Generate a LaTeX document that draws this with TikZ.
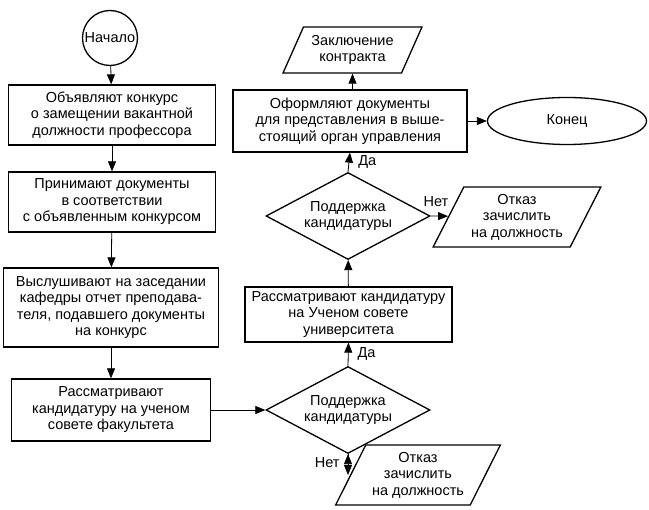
\documentclass[tikz,border=0pt]{standalone}
\usepackage{fontspec}
\setmainfont{Liberation Sans}
\usetikzlibrary{shapes.geometric,arrows.meta}
\begin{document}
\begin{tikzpicture}[x=1pt, y=-1pt,
    every node/.style={font=\fontsize{14.5}{16.5}\selectfont, align=center, inner sep=0pt},
    blk/.style={draw, line width=1.3pt, rectangle},
    ask/.style={draw, line width=1.3pt, diamond, aspect=1.9, minimum width=164, minimum height=87},
    io/.style={draw, line width=1.3pt, trapezium, trapezium left angle=60,
               trapezium right angle=120, trapezium stretches=true},
    >={Triangle[length=10pt, width=8pt]}]
    \useasboundingbox (0, 0) rectangle (649, 510);
    % left column
    \node (start) [draw, line width=1.3pt, circle, minimum size=55] at (110, 38) {Начало};
    \node (b1) [blk, minimum width=207, minimum height=60] at (112, 115)
          {Объявляют конкурс\\о замещении вакантной\\должности профессора};
    \node (b2) [blk, minimum width=207, minimum height=60] at (112, 202)
          {Принимают документы\\в соответствии\\с объявленным конкурсом};
    \node (b3) [blk, minimum width=215, minimum height=79] at (111, 307.5)
          {Выслушивают на заседании\\кафедры отчет преподава-\\теля, подавшего документы\\на конкурс};
    \node (b4) [blk, minimum width=199, minimum height=62] at (111, 410)
          {Рассматривают\\кандидатуру на ученом\\совете факультета};
    % right column
    \node (d2) [ask] at (348, 410) {Поддержка\\кандидатуры};
    \node (no2) [io, minimum width=165, minimum height=60] at (418, 475)
          {Отказ\\зачислить\\на должность};
    \node (b5) [blk, minimum width=207, minimum height=55] at (348.5, 314.5)
          {Рассматривают кандидатуру\\на Ученом совете\\университета};
    \node (d1) [ask] at (348, 216) {Поддержка\\кандидатуры};
    \node (no1) [io, minimum width=168, minimum height=60] at (517, 217)
          {Отказ\\зачислить\\на должность};
    \node (b6) [blk, minimum width=234, minimum height=62] at (350, 121)
          {Оформляют документы\\для представления в выше-\\стоящий орган управления};
    \node (deal) [io, minimum width=139, minimum height=46] at (352.5, 50)
          {Заключение\\контракта};
    \node (stop) [draw, line width=1.3pt, ellipse, minimum width=159, minimum height=47] at (567, 121) {Конец};
    \coordinate (n2) at (d2.south |- no2.west);
    \draw[->, line width=0.8pt] (start) edge (b1)
              (b1) edge (b2)
              (b2) edge (b3)
              (b3) edge (b4)
              (b4) edge (d2)
              (b5) edge (d1)
              (b6.north -| deal.south) edge (deal)
              (b6) edge (stop)
              (d1.east) edge node [pos=0.3, above=9pt] {Нет} (no1)
              (d2.south) edge node [pos=0.4, left=8pt] {Нет} (n2);
    \draw[->, line width=0.8pt] (d2.north) -- node [pos=0.5, right=9pt] {Да} (b5.south);
    \draw[->, line width=0.8pt] (d1.north) -- node [pos=0.5, right=9pt] {Да} (b6.south);
\end{tikzpicture}
\end{document}
